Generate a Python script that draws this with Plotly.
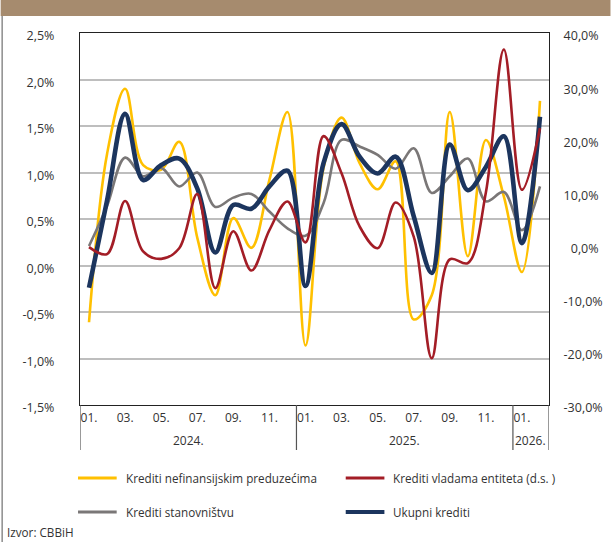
import plotly.graph_objects as go

# ---------------- data ----------------
month_idx = list(range(26))  # Jan 2024 .. Feb 2026
tick_idx = [0, 2, 4, 6, 8, 10, 12, 14, 16, 18, 20, 22, 24]
tick_text = ["01.", "03.", "05.", "07.", "09.", "11.",
             "01.", "03.", "05.", "07.", "09.", "11.", "01."]
year_labels = ["2024.", "2025.", "2026."]
year_start = [0, 12, 24]
year_end = [12, 24, 26]

nefin = [-0.61, 1.20, 1.90, 1.08, 1.03, 1.33, 0.30, -0.32, 0.51, 0.19, 0.92, 1.65, -0.86,
         1.05, 1.59, 1.10, 0.82, 1.12, -0.58, -0.32, 1.65, 0.10, 1.35, 0.74, -0.07, 1.77]
vlade = [-0.3, -1.6, 8.4, -1.1, -2.5, -0.5, 9.7, -8.0, 2.7, -4.7, 2.9, 8.3, 0.6,
         20.6, 13.6, 3.6, -0.5, 8.1, 1.7, -21.2, -2.6, -3.3, 10.0, 36.9, 10.5, 22.1]
stanov = [0.21, 0.64, 1.16, 0.96, 1.05, 0.85, 1.00, 0.63, 0.73, 0.77, 0.58, 0.40, 0.32,
          0.67, 1.35, 1.28, 1.19, 1.04, 1.26, 0.78, 0.96, 1.15, 0.69, 0.79, 0.38, 0.85]
ukupni = [-0.24, 0.70, 1.63, 0.92, 1.08, 1.15, 0.83, 0.14, 0.65, 0.61, 0.85, 1.02, -0.22,
          1.10, 1.52, 1.17, 0.99, 1.17, 0.53, -0.08, 1.30, 0.81, 1.06, 1.39, 0.24, 1.60]

left_ticks = [2.5, 2.0, 1.5, 1.0, 0.5, 0.0, -0.5, -1.0, -1.5]
left_text = ["2,5%", "2,0%", "1,5%", "1,0%", "0,5%", "0,0%", "-0,5%", "-1,0%", "-1,5%"]
right_ticks = [40, 30, 20, 10, 0, -10, -20, -30]
right_text = ["40,0%", "30,0%", "20,0%", "10,0%", "\u20070,0%", "-10,0%", "-20,0%", "-30,0%"]

names = ["Krediti nefinansijskim preduzećima", "Krediti vladama entiteta (d.s. )",
         "Krediti stanovništvu", "Ukupni krediti"]
colors = ["#FFC000", "#A31D26", "#7A7777", "#1C355E"]
widths = [2.6, 2.6, 2.6, 4.6]

# ---------------- geometry ----------------
W, H = 615, 542
L, R, T, B = 80, 62, 33, 137
PW, PH = W - L - R, H - T - B
FONT = "Open Sans"
TXT = "#333333"


def px_x(px):
    return (px - L) / PW


def px_y(py):
    return (H - B - py) / PH


fig = go.Figure()
fig.add_trace(go.Scatter(x=month_idx, y=nefin, mode="lines", name=names[0],
                         line=dict(color=colors[0], width=widths[0], shape="spline", smoothing=1.0)))
fig.add_trace(go.Scatter(x=month_idx, y=stanov, mode="lines", name=names[2],
                         line=dict(color=colors[2], width=widths[2], shape="spline", smoothing=1.0)))
fig.add_trace(go.Scatter(x=month_idx, y=vlade, mode="lines", name=names[1], yaxis="y2",
                         line=dict(color=colors[1], width=widths[1], shape="spline", smoothing=1.0)))
fig.add_trace(go.Scatter(x=month_idx, y=ukupni, mode="lines", name=names[3],
                         line=dict(color=colors[3], width=widths[3], shape="spline", smoothing=1.0)))

fig.update_layout(
    width=W, height=H,
    margin=dict(l=L, r=R, t=T, b=B, pad=0),
    paper_bgcolor="white", plot_bgcolor="white",
    showlegend=False,
    font=dict(family=FONT, size=12, color=TXT),
    xaxis=dict(range=[-0.5, 25.5], tickvals=tick_idx, ticktext=tick_text,
               showgrid=False, zeroline=False, showline=True, linecolor="#222222",
               linewidth=1.2, mirror=True, ticks="", ticklabelstandoff=1,
               tickfont=dict(family=FONT, size=12, color=TXT)),
    yaxis=dict(range=[-1.5, 2.5], tickvals=left_ticks, ticktext=left_text,
               showgrid=True, gridcolor="#BEBEBE", gridwidth=1.6, zeroline=False,
               showline=True, linecolor="#222222", linewidth=1.2, ticks="",
               ticklabelstandoff=22, ticklabelshift=3,
               tickfont=dict(family=FONT, size=12.5, color=TXT)),
    yaxis2=dict(range=[-30, 40], tickvals=right_ticks, ticktext=right_text,
                overlaying="y", side="right", showgrid=False, zeroline=False,
                showline=True, linecolor="#222222", linewidth=1.2, ticks="",
                ticklabelstandoff=11, ticklabelshift=3,
                tickfont=dict(family=FONT, size=12.5, color=TXT)),
)

shapes = []
# brown top banner
shapes.append(dict(type="rect", xref="paper", yref="paper", x0=px_x(0), x1=px_x(W),
                   y0=px_y(16), y1=px_y(0), fillcolor="#A68B6E", line=dict(width=0), layer="above"))
# left outer border
shapes.append(dict(type="line", xref="paper", yref="paper", x0=px_x(1.5), x1=px_x(1.5),
                   y0=px_y(16), y1=px_y(H), line=dict(color="#8C8C8C", width=1.5)))
# category separators below the x axis
for xs in [year_start[0] - 0.5] + [e - 0.5 for e in year_end]:
    shapes.append(dict(type="line", xref="x", yref="paper", x0=xs, x1=xs,
                       y0=0, y1=px_y(450), line=dict(color="#555555", width=1.2)))

annotations = []
for lab, s, e in zip(year_labels, year_start, year_end):
    annotations.append(dict(x=(s + e - 1) / 2, y=px_y(441), xref="x", yref="paper",
                            text=lab, showarrow=False, xanchor="center", yanchor="middle",
                            font=dict(family=FONT, size=12, color=TXT)))

# manual legend (2 x 2)
leg_pos = [(78, 478), (348, 478), (78, 512), (348, 512)]
leg_order = [0, 1, 2, 3]
for (lx, ly), k in zip(leg_pos, leg_order):
    shapes.append(dict(type="line", xref="paper", yref="paper", x0=px_x(lx), x1=px_x(lx + 39),
                       y0=px_y(ly), y1=px_y(ly),
                       line=dict(color=colors[k], width=3.2 if k < 3 else 4)))
    annotations.append(dict(x=px_x(lx + 46), y=px_y(ly), xref="paper", yref="paper",
                            text=names[k], showarrow=False, xanchor="left", yanchor="middle",
                            font=dict(family=FONT, size=11.7, color=TXT)))

annotations.append(dict(x=px_x(4), y=px_y(532), xref="paper", yref="paper",
                        text="Izvor: CBBiH", showarrow=False, xanchor="left", yanchor="middle",
                        font=dict(family=FONT, size=11.7, color=TXT)))

fig.update_layout(shapes=shapes, annotations=annotations)
fig.write_html("out.html", config={"displayModeBar": False},
               post_script="document.body.style.margin='0';document.body.style.padding='0';")
